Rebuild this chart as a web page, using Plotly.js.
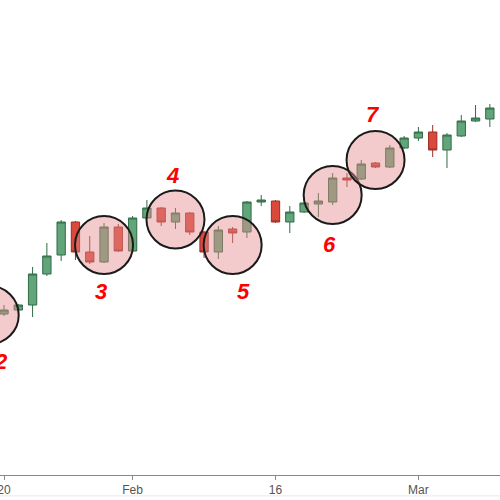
<!DOCTYPE html>
<html>
<head>
<meta charset="utf-8">
<script src="https://cdn.plot.ly/plotly-3.0.1.min.js"></script>
<style>html,body{margin:0;padding:0;background:#fff}#chart{width:500px;height:500px}</style>
</head>
<body>
<div id="chart"></div>
<script>
// Trading days (weekends skipped), 2015
const dates = ['2015-01-20','2015-01-21','2015-01-22','2015-01-23','2015-01-26','2015-01-27','2015-01-28','2015-01-29','2015-01-30',
  '2015-02-02','2015-02-03','2015-02-04','2015-02-05','2015-02-06','2015-02-09','2015-02-10','2015-02-11','2015-02-12','2015-02-13',
  '2015-02-16','2015-02-17','2015-02-18','2015-02-19','2015-02-20','2015-02-23','2015-02-24','2015-02-25','2015-02-26','2015-02-27',
  '2015-03-02','2015-03-03','2015-03-04','2015-03-05','2015-03-06','2015-03-09'];
const open  = [116.1,116.5,117.0,120.1,122.0,125.3,122.3,121.3,124.8, 122.4,125.7,126.7,125.3,126.2,124.3,122.3,124.6,124.3,127.3, 127.4,125.3,126.3,127.1,127.3,129.7,129.6,131.2,130.8,132.7, 133.7,134.3,132.5,133.9,135.4,135.6];
const high  = [117.0,117.1,120.8,123.2,125.5,125.4,123.9,125.2,125.1, 125.9,127.5,126.8,126.7,126.3,124.4,124.9,124.8,127.4,128.0, 127.5,126.9,127.3,128.2,130.2,130.2,131.5,131.3,133.0,133.9, 134.8,135.0,134.2,136.0,137.0,137.1];
const low   = [115.9,116.4,115.8,119.9,121.4,121.5,121.1,121.2,122.3, 122.3,125.6,124.9,124.6,124.0,121.7,121.6,123.2,123.7,126.9, 125.2,124.2,126.2,125.8,127.0,128.8,129.5,130.7,130.7,132.6, 133.4,131.8,130.7,133.8,135.3,134.8];
const close = [116.5,117.0,120.1,121.9,125.3,122.3,121.3,124.8,122.4, 125.7,126.7,125.3,126.2,124.3,122.3,124.5,124.2,127.3,127.5, 125.3,126.3,127.2,127.4,129.7,129.5,131.1,130.8,132.7,133.7, 134.3,132.5,134.0,135.4,135.7,136.7];

// Tick labels
const tickDates = ['2015-01-20','2015-02-02','2015-02-16','2015-03-02'];
const tickLabels = ['20','Feb','16','Mar'];

// Highlighted patterns: circle centre (trading-day index, price) and numbered label
const circleIdx   = [-1, 7, 12, 16, 23, 26];
const circlePrice = [116.0, 123.0, 125.55, 123.0, 128.0, 131.5];
const labelText   = ['2','3','4','5','6','7'];
const labelIdx    = [0, 7, 12, 17, 23, 26];
const labelPrice  = [111.35, 118.35, 130.0, 118.4, 123.1, 136.1];

const trace = {
  type: 'candlestick',
  x: dates, open: open, high: high, low: low, close: close,
  increasing: {fillcolor: '#63a57a', line: {color: '#2f6b45', width: 1}},
  decreasing: {fillcolor: '#d9493c', line: {color: '#9a2e24', width: 1}},
  whiskerwidth: 0,
  hoverinfo: 'skip'
};

const R = 29;
const shapes = circleIdx.map((ci, k) => ({
  type: 'circle', xref: 'x', yref: 'y',
  xsizemode: 'pixel', ysizemode: 'pixel',
  xanchor: ci, yanchor: circlePrice[k],
  x0: -R, x1: R, y0: -R, y1: R,
  fillcolor: 'rgba(231,140,143,0.45)',
  line: {color: '#1a1a1a', width: 2},
  layer: 'above'
}));
shapes.push({type:'line', xref:'paper', yref:'paper', x0:0, x1:1, y0:-0.044, y1:-0.044, line:{color:'#e8e8e8', width:1}});

const annotations = labelText.map((t, k) => ({
  x: labelIdx[k], y: labelPrice[k], xref: 'x', yref: 'y',
  text: t, showarrow: false, xshift: -3,
  font: {family: 'Liberation Sans, Arial, sans-serif', size: 22, color: '#ff0000', weight: 'bold', style: 'italic'}
}));

const layout = {
  width: 500, height: 500,
  margin: {l: 0, r: 0, t: 0, b: 25},
  paper_bgcolor: '#fff', plot_bgcolor: '#fff',
  showlegend: false,
  boxgap: 0.17,
  xaxis: {
    type: 'category',
    range: [-0.28, 34.71],
    rangeslider: {visible: false},
    tickmode: 'array', tickvals: tickDates, ticktext: tickLabels,
    showgrid: false, zeroline: false,
    showline: true, linecolor: '#888', linewidth: 1,
    ticks: 'outside', ticklen: 4, tickcolor: '#888', tickangle: 0,
    tickfont: {family: 'Liberation Sans, Arial, sans-serif', size: 12, color: '#555'}
  },
  yaxis: {
    range: [100, 147.5],
    visible: false, showgrid: false, zeroline: false, fixedrange: true
  },
  shapes: shapes,
  annotations: annotations
};

Plotly.newPlot('chart', [trace], layout, {displayModeBar: false, staticPlot: true});
</script>
</body>
</html>
